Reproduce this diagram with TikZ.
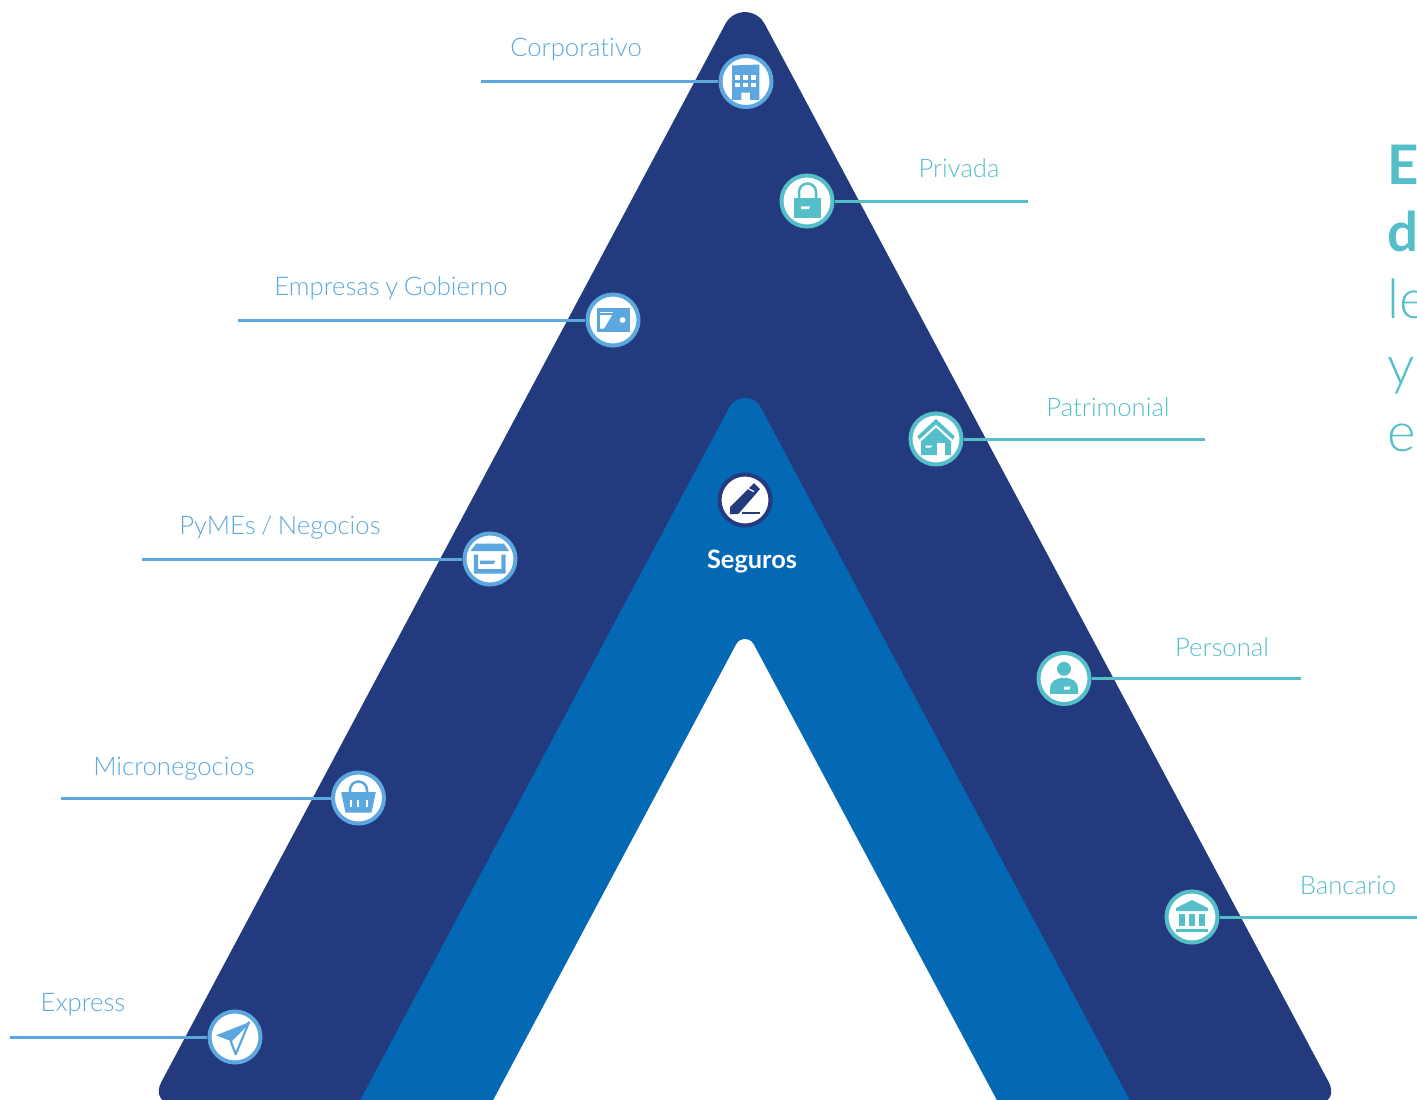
\documentclass[tikz,border=0pt]{standalone}
\usepackage{fontspec}
\setmainfont{Lato}
\newfontfamily\lightfont[Ligatures=NoCommon, WordSpace=0.8]{Lato Light}
\usetikzlibrary{positioning}

\definecolor{navyband}{HTML}{243A7F}
\definecolor{blueband}{HTML}{0369B5}
\definecolor{skyline}{HTML}{5CA7E0}
\definecolor{tealline}{HTML}{54BFC8}

\tikzset{
    ring/.style={circle, draw=#1, fill=white, line width=0.04cm, minimum size=0.51cm, inner sep=0pt},
    branch/.style={draw=#1, line width=0.03cm},
    tag/.style={text=#1, anchor=base, font=\lightfont\fontsize{7.3}{9}\selectfont, inner sep=0pt},
    bigline/.style={text=tealline, anchor=base west, inner sep=0pt, font=\lightfont\fontsize{15.5}{18}\selectfont},
}

\begin{document}
\begin{tikzpicture}[x=0.01cm, y=-0.01cm]
    \useasboundingbox (0,0) rectangle (1417,1099);
    \clip (0,0) rectangle (1417,1099);

    % bands
    \fill[navyband] (745,1104) [rounded corners=0.25cm] -- (1340.4,1104) [sharp corners] -- (764.6,23.8) arc[start angle=-28.06, end angle=-151.94, x radius=22.2, y radius=22.2] [rounded corners=0.25cm] -- (149.6,1104) -- cycle;
    \fill[blueband] (1135,1110) -- (760.7,407.4) arc[start angle=-28.06, end angle=-151.94, x radius=17.8, y radius=17.8] -- (355,1110) -- cycle;
    \fill[white] (1002,1110) -- (753.6,644.2) arc[start angle=-28.06, end angle=-151.94, x radius=9.8, y radius=9.8] -- (488,1110) -- cycle;

    % left side
    \node[ring=skyline] (corporativo) at (746,81.5) {};
    \node[ring=skyline] (empresas) at (613,320) {};
    \node[ring=skyline] (pymes) at (490,559) {};
    \node[ring=skyline] (micro) at (358.5,798) {};
    \node[ring=skyline] (express) at (235,1037) {};

    % right side
    \node[ring=tealline] (privada) at (807,201) {};
    \node[ring=tealline] (patrimonial) at (936,439) {};
    \node[ring=tealline] (personal) at (1064,678.5) {};
    \node[ring=tealline] (bancario) at (1192,917) {};

    % centre
    \node[ring=navyband] (seguros) at (745,500) {};
    \node[text=white, anchor=base, inner sep=0pt, font=\bfseries\fontsize{7.2}{9}\selectfont] (seguros_text) at (752,568) {Seguros};

    \coordinate (corporativo_end) at (481,81.5);
    \coordinate (empresas_end) at (238,320);
    \coordinate (pymes_end) at (142,559);
    \coordinate (micro_end) at (61,798);
    \coordinate (express_end) at (10,1037);
    \coordinate (privada_end) at (1028,201);
    \coordinate (patrimonial_end) at (1205,439);
    \coordinate (personal_end) at (1301,678.5);
    \coordinate (bancario_end) at (1417,917);

    \foreach \name in {corporativo, empresas, pymes, micro, express}
        \draw[branch=skyline] (\name) -- (\name_end);
    \foreach \name in {privada, patrimonial, personal, bancario}
        \draw[branch=tealline] (\name) -- (\name_end);

    \node[tag=skyline] (corporativo_text) at (576,56) {Corporativo};
    \node[tag=skyline] (empresas_text) at (391,295) {Empresas y Gobierno};
    \node[tag=skyline] (pymes_text) at (280,534) {PyMEs / Negocios};
    \node[tag=skyline] (micro_text) at (174,775) {Micronegocios};
    \node[tag=skyline] (express_text) at (83,1011) {Express};
    \node[tag=tealline] (privada_text) at (959,177) {Privada};
    \node[tag=tealline] (patrimonial_text) at (1108,416) {Patrimonial};
    \node[tag=tealline] (personal_text) at (1222,656) {Personal};
    \node[tag=tealline] (bancario_text) at (1348,894) {Bancario};

    % text cut by the page edge
    \node[bigline, font=\bfseries\fontsize{15.5}{18}\selectfont] (line_a) at (1387,184) {E};
    \node[bigline, font=\bfseries\fontsize{15.5}{18}\selectfont] (line_b) at (1387,251) {d};
    \node[bigline] (line_c) at (1387,318) {le};
    \node[bigline] (line_d) at (1387,384) {y};
    \node[bigline] (line_e) at (1387,451) {e};

    % icons
    \begin{scope}[shift={(corporativo)}]
        \fill[skyline] (-14,-16) -- (13.3,-17) -- (13.3,18.3) -- (4,18.3) -- (4,11) -- (-4.7,11) -- (-4.7,18.3) -- (-14,18.3) -- cycle;
        \foreach \wx in {-10.7,-2.7,5.3}
            \foreach \wy in {-6.3,1}
                \fill[white] (\wx,\wy) rectangle ++(4.7,4.7);
    \end{scope}
    \begin{scope}[shift={(empresas)}]
        \fill[skyline] (-16,-11.7) rectangle (16.5,12);
        \fill[white] (-13,-8.5) rectangle (0,-7);
        \fill[white] (-12.8,-4.8) -- (-1,-4.8) -- (-9,8.6) -- (-12.8,8.6) -- cycle;
        \fill[white] (9.6,0) circle (2.9);
    \end{scope}
    \begin{scope}[shift={(pymes)}]
        \fill[skyline] (-13.8,-15.5) -- (13.8,-15.5) -- (19,-7.9) -- (-19.6,-7.9) -- cycle;
        \fill[skyline] (-16.2,-4.5) -- (-12,-4.5) -- (-12,10) -- (11.4,10) -- (11.4,-4.5) -- (15.5,-4.5) -- (15.5,14.5) -- (-16.2,14.5) -- cycle;
        \fill[skyline] (-10,1.7) -- (5.2,1.7) -- (3.4,5.2) -- (-10,5.2) -- cycle;
    \end{scope}
    \begin{scope}[shift={(micro)}]
        \draw[skyline, line width=0.025cm] (-8.5,-6) -- (-8.5,-8) arc[start angle=180, end angle=360, x radius=8.5, y radius=8.5] -- (8.5,-6);
        \fill[skyline] (-17.3,-6) -- (17.3,-6) -- (13,14.7) -- (-13,14.7) -- cycle;
        \foreach \sx in {-7.7,-0.3,8}
            \fill[white] (\sx-1,2) rectangle (\sx+1,8.7);
    \end{scope}
    \begin{scope}[shift={(express)}]
        \fill[skyline] (14,-14.7) -- (-19,-1.7) -- (-4.3,4) -- cycle;
        \draw[skyline, line width=0.022cm, line join=round] (14,-14.7) -- (0.7,17.3) -- (-4.3,4) -- cycle;
    \end{scope}
    \begin{scope}[shift={(privada)}]
        \draw[tealline, line width=0.025cm] (-8,-3) -- (-8,-9) arc[start angle=180, end angle=360, x radius=8.5, y radius=8.5] -- (9,-3);
        \fill[tealline] (-13,-3) rectangle (14,17);
        \fill[white] (-6,5.3) -- (3.3,5.3) -- (1.7,8) -- (-6,8) -- cycle;
    \end{scope}
    \begin{scope}[shift={(patrimonial)}]
        \fill[tealline] (0,-20) -- (-18.6,-2.8) -- (-16.9,0.7) -- (0,-14.5) -- (16.9,0.7) -- (18.6,-2.8) -- cycle;
        \fill[tealline] (0,-11.4) -- (-14.8,2.4) -- (-14.8,16.2) -- (15,16.2) -- (15,2.4) -- cycle;
        \fill[white] (0.7,4) rectangle (9,16.5);
        \fill[white] (-10.5,6.5) -- (-3.7,6.5) -- (-5.4,8.6) -- (-10.5,8.6) -- cycle;
    \end{scope}
    \begin{scope}[shift={(personal)}]
        \fill[tealline] (0,-9.7) circle (7);
        \fill[tealline] (-14,15.3) -- (-14,10) .. controls (-14,3) and (-8,-0.7) .. (0,-0.7) .. controls (8,-0.7) and (14,3) .. (14,10) -- (14,15.3) -- cycle;
        \fill[white] (0,8) -- (6.7,8) -- (5.3,11) -- (0,11) -- cycle;
    \end{scope}
    \begin{scope}[shift={(bancario)}]
        \fill[tealline] (0,-17) -- (-16,-9) -- (-16,-6) -- (16,-6) -- (16,-9) -- cycle;
        \foreach \cx in {-13,-3,7}
            \fill[tealline] (\cx,-3.3) rectangle ++(6,12.3);
        \fill[tealline] (-16,12.3) rectangle (16,15.3);
    \end{scope}
    \begin{scope}[shift={(seguros)}]
        \fill[navyband] (-15,14) -- (-15,7) -- (9,-17) -- (15,-11) -- (-6.7,14) -- cycle;
        \draw[white, line width=0.012cm] (2.7,-11.7) -- (9,-8.3);
        \fill[navyband] (-3.3,11.5) rectangle (15,14);
    \end{scope}
\end{tikzpicture}
\end{document}
